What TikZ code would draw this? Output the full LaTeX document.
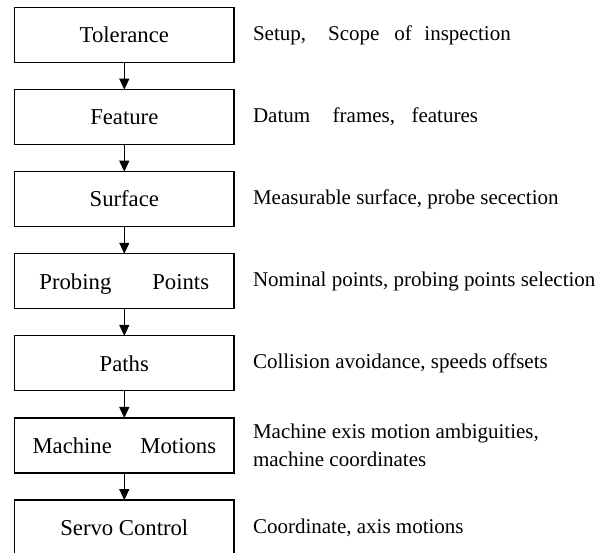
\documentclass[tikz,border=0pt]{standalone}
\usepackage{fontspec}
\setmainfont{Liberation Serif}
\usetikzlibrary{positioning,arrows.meta}

\begin{document}
\begin{tikzpicture}[
    stage/.style = {draw, rectangle, line width = 1.2pt, minimum width = 219.5pt,
                    minimum height = 55pt, inner sep = 0pt, outer sep = 0pt,
                    text height = 15.5pt, text depth = 0pt,
                    font = \fontsize{22.7}{27}\selectfont},
    note/.style  = {align = left, inner sep = 0pt, outer sep = 0pt,
                    font = \fontsize{21}{28.5}\selectfont},
    flow/.style  = {line width = 1pt, -{Triangle[width = 10pt, length = 11pt]}}]
  \useasboundingbox (0,0) rectangle (614pt,-553pt);

  \foreach \stg/\dsc [count = \id] in {
    Tolerance/{Setup,\hspace{22pt}Scope\hspace{15pt}of\hspace{12.5pt}inspection},
    Feature/{Datum\hspace{22.5pt}frames,\hspace{16.5pt}features},
    Surface/{Measurable surface, probe secection},
    {Probing\hspace{41pt}Points\hspace{13pt}}/{Nominal points, probing points selection},
    Paths/{Collision avoidance, speeds offsets},
    {Machine\hspace{28.5pt}Motions}/{Machine exis motion ambiguities,\\machine coordinates},
    Servo Control/{Coordinate, axis motions}
  } {
    \node [stage] (st\id) at (124.3pt, {-35pt - (\id - 1) * 82.1pt}) {\stg};
    \node [note, right = 19pt of st\id] (ds\id) {\dsc};
  }

  \foreach \i [count = \j from 2] in {1, ..., 6}
    \draw [flow] (st\i) -- (st\j);
\end{tikzpicture}
\end{document}
